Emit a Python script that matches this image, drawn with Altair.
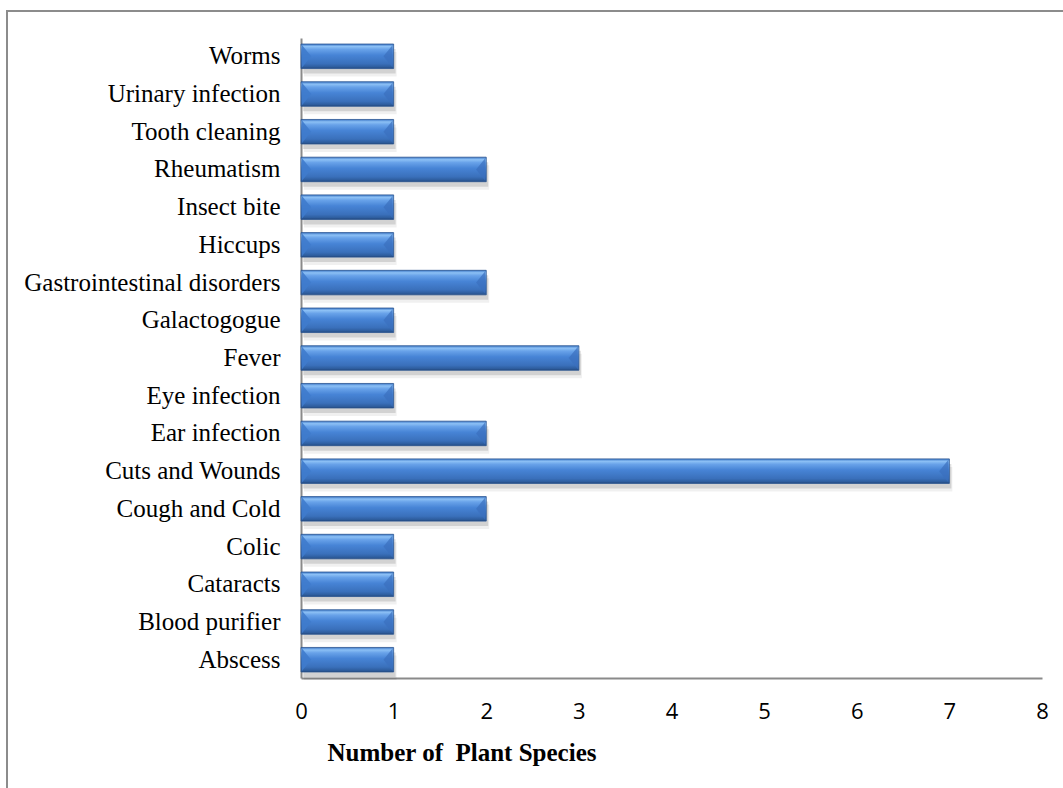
import altair as alt
import pandas as pd

# Ailments treated and the number of plant species used for each
ailments = [
    "Abscess", "Blood purifier", "Cataracts", "Colic", "Cough and Cold",
    "Cuts and Wounds", "Ear infection", "Eye infection", "Fever",
    "Galactogogue", "Gastrointestinal disorders", "Hiccups", "Insect bite",
    "Rheumatism", "Tooth cleaning", "Urinary infection", "Worms",
]
species_counts = [1, 1, 1, 1, 2, 7, 2, 1, 3, 1, 2, 1, 1, 2, 1, 1, 1]
x_ticks = [0, 1, 2, 3, 4, 5, 6, 7, 8]

df = pd.DataFrame({"ailment": ailments, "count": species_counts, "zero": 0})

PLOT_W, PLOT_H = 741, 640
PAD = {"left": 301, "top": 38, "right": 21, "bottom": 110}
BAR_PX = 24.5  # band width in pixels, used to size the bevel caps

y_enc = alt.Y(
    "ailment:N",
    sort=ailments[::-1],
    scale=alt.Scale(paddingInner=0.35, paddingOuter=0.16),
    axis=alt.Axis(
        title=None, ticks=False, grid=False,
        domainColor="#8a8a8a", domainWidth=2,
        labelFont="Liberation Serif", labelFontSize=25, labelColor="#000000",
        labelPadding=21, labelLimit=400,
    ),
)
x_scale = alt.Scale(domain=[0, 8], nice=False)
x_axis = alt.Axis(
    values=x_ticks, format="d", ticks=False, grid=False,
    domainColor="#8a8a8a", domainWidth=2,
    labelFont="Open Sans", labelFontSize=22, labelColor="#000000",
    labelBaseline="alphabetic", labelPadding=40, labelFlush=False,
    title="Number of \u00a0Plant Species",
    titleFont="Liberation Serif", titleFontSize=25, titleFontWeight="bold",
    titleColor="#000000", titleAlign="left", titleBaseline="alphabetic",
    titleX=26, titleY=82,
)

# soft drop shadow under each bar
shadow = alt.Chart(df).mark_bar(color="#000000", opacity=0.12, yOffset=5, xOffset=2).encode(
    x=alt.X("count:Q", scale=x_scale, axis=x_axis),
    y=y_enc,
)
shadow2 = alt.Chart(df).mark_bar(color="#000000", opacity=0.06, yOffset=8, xOffset=3).encode(
    x=alt.X("count:Q", scale=x_scale, axis=x_axis),
    y=y_enc,
)

bevel_fill = alt.Gradient(
    gradient="linear",
    stops=[
        alt.GradientStop(color="#3d78c8", offset=0),
        alt.GradientStop(color="#8cc0f5", offset=0.1),
        alt.GradientStop(color="#68a2e9", offset=0.22),
        alt.GradientStop(color="#4784d6", offset=0.45),
        alt.GradientStop(color="#3a70bb", offset=0.8),
        alt.GradientStop(color="#2d5c9c", offset=0.94),
        alt.GradientStop(color="#23477b", offset=1),
    ],
    x1=0, x2=0, y1=0, y2=1,
)
bars = alt.Chart(df).mark_bar(color=bevel_fill, stroke="#2b5592", strokeWidth=0.8).encode(
    x=alt.X("count:Q", scale=x_scale, axis=x_axis),
    y=y_enc,
)

# bevelled end caps: a wedge at each end of the bar
cap_size = BAR_PX * BAR_PX
left_cap = alt.Chart(df).mark_point(
    shape="M 0 -0.92 L 0.75 0 L 0 0.92 Z", filled=True, size=cap_size,
    color="#3f7bcc", opacity=0.9, strokeWidth=0, xOffset=1,
).encode(
    x=alt.X("zero:Q", scale=x_scale, axis=x_axis),
    y=y_enc,
)
right_cap = alt.Chart(df).mark_point(
    shape="M 0 -0.92 L -0.75 0 L 0 0.92 Z", filled=True, size=cap_size,
    color="#3a6fbd", opacity=0.7, strokeWidth=0, xOffset=-1,
).encode(
    x=alt.X("count:Q", scale=x_scale, axis=x_axis),
    y=y_enc,
)

# outer frame around the whole figure
frame = alt.Chart(df).mark_rect(fill=None, stroke="#8c8c8c", strokeWidth=2).encode(
    x=alt.value(7 - PAD["left"]),
    x2=alt.value(1080 - PAD["left"]),
    y=alt.value(11 - PAD["top"]),
    y2=alt.value(820 - PAD["top"]),
)

chart = alt.layer(frame, shadow2, shadow, bars, left_cap, right_cap).properties(
    width=PLOT_W, height=PLOT_H,
    autosize=alt.AutoSizeParams(type="none"),
    padding=PAD,
    background="#ffffff",
).configure_view(strokeWidth=0, stroke="transparent")

chart.save("out.html", embed_options={"renderer": "svg", "actions": False})
